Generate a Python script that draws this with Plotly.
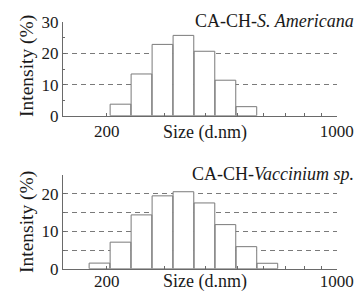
import plotly.graph_objects as go
import math

# --- data ---
size_bins_top = [220.2, 255.0, 295.3, 342.0, 396.1, 458.7, 531.2]
intensity_top = [3.7, 13.4, 22.9, 25.8, 20.7, 11.4, 2.9]
size_bins_bot = [190.1, 220.2, 255.0, 295.3, 342.0, 396.1, 458.7, 531.2, 615.1]
intensity_bot = [1.5, 7.1, 14.4, 19.5, 20.6, 17.6, 11.8, 5.9, 1.45]
bin_ratio = 1.1557  # log-spaced bin ratio
x_tick_vals = [200, 300, 400, 500, 600, 700, 800, 900, 1000]
x_tick_text = ["200", "", "", "", "", "", "", "", "1000"]
label_top = "CA-CH-<i>S. Americana</i>"
label_bot = "CA-CH-<i>Vaccinium sp.</i>"

W, H = 358, 292
FONT = "Liberation Serif"
GRAY = "#7a7a7a"
AXC = "#6a6a6a"
TXT = "#1a1a1a"

fig = go.Figure()

def add_bars(centers, vals, xa, ya):
    half = math.sqrt(bin_ratio)
    xs, ys = [], []
    for c, v in zip(centers, vals):
        l, r = c / half, c * half
        xs += [l, l, r, r, l, None]
        ys += [0, v, v, 0, 0, None]
    fig.add_trace(go.Scatter(x=xs, y=ys, xaxis=xa, yaxis=ya, mode="lines",
                             fill="toself", fillcolor="white",
                             line=dict(color=GRAY, width=1), hoverinfo="skip",
                             showlegend=False))

add_bars(size_bins_top, intensity_top, "x", "y")
add_bars(size_bins_bot, intensity_bot, "x2", "y2")

def fx(p):
    return p / W

def fy(p):
    return 1 - p / H

xdom = [fx(63), fx(337)]

xcommon = dict(type="log", range=[2.1682, 3.0005], tickmode="array",
               tickvals=x_tick_vals, ticktext=x_tick_text, ticks="inside",
               ticklen=3, tickcolor=AXC, showline=True, linecolor=AXC,
               linewidth=1, showgrid=False, zeroline=False, automargin=False,
               tickfont=dict(family=FONT, size=17, color=TXT),
               domain=xdom)

ycommon = dict(ticks="inside", ticklen=3, tickcolor=AXC, showline=True,
               linecolor=AXC, linewidth=1, showgrid=True, gridcolor=GRAY,
               griddash="5px,4px", gridwidth=1, zeroline=False, automargin=False,
               tickfont=dict(family=FONT, size=17, color=TXT))

fig.update_layout(
    width=W, height=H, margin=dict(l=0, r=0, t=0, b=0, autoexpand=False),
    paper_bgcolor="white", plot_bgcolor="white",
    xaxis=dict(**xcommon, anchor="y"),
    xaxis2=dict(**xcommon, anchor="y2", ticklabelstandoff=-3),
    yaxis=dict(**ycommon, domain=[fy(115.7), fy(22.3)], range=[0, 30],
               tickvals=[0, 10, 20, 30],
               minor=dict(tickvals=[5, 15, 25], ticks="inside", ticklen=2,
                          tickcolor=AXC, showgrid=False),
               anchor="x"),
    yaxis2=dict(**ycommon, domain=[fy(268.7), fy(175.3)], range=[0, 25],
                tickvals=[0, 10, 20],
                minor=dict(tickvals=[5, 15, 25], ticks="inside", ticklen=2,
                           tickcolor=AXC, showgrid=True, gridcolor=GRAY,
                           griddash="5px,4px", gridwidth=1),
                anchor="x2"),
)

def ann(text, x, y, size, **kw):
    fig.add_annotation(xref="paper", yref="paper", showarrow=False,
                       font=dict(family=FONT, size=size, color=TXT),
                       text=text, x=x, y=y, **kw)

ann(label_top, fx(355), fy(21), 18, xanchor="right", yanchor="middle",
    bgcolor="white", borderpad=0)
ann(label_bot, fx(355), fy(174), 18, xanchor="right", yanchor="middle",
    bgcolor="white", borderpad=0)
ann("Intensity (%)", fx(27), fy(66), 19.5, textangle=-90,
    xanchor="center", yanchor="middle")
ann("Intensity (%)", fx(27), fy(222), 19.5, textangle=-90,
    xanchor="center", yanchor="middle")
ann("Size (d.nm)", fx(205), fy(133), 18, xanchor="center", yanchor="middle")
ann("Size (d.nm)", fx(205), fy(281), 18, xanchor="center", yanchor="middle")

fig.write_html(
    "out.html",
    config={"displayModeBar": False},
    post_script="document.body.style.margin='0';document.body.style.overflow='hidden';",
)
